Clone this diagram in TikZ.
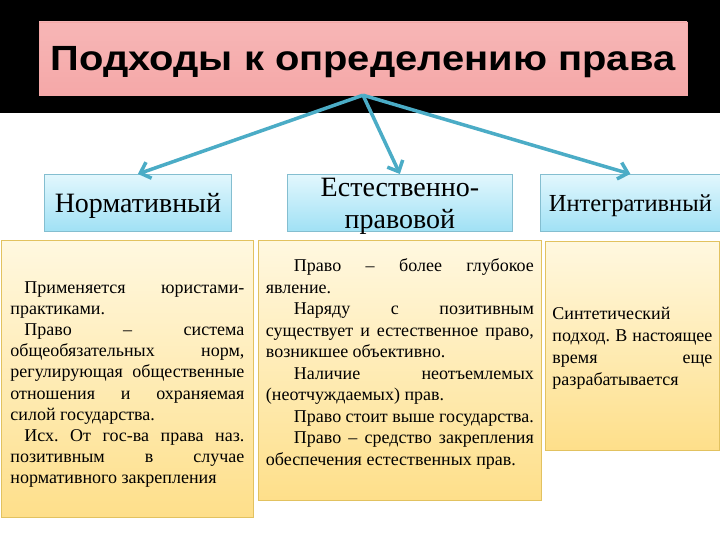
\documentclass[tikz,border=0pt]{standalone}
\usepackage{fontspec}
\usepackage{graphicx}
\setmainfont{Liberation Serif}
\newfontfamily\titlefont{Liberation Sans}
\usetikzlibrary{arrows.meta}

\definecolor{arrowblue}{RGB}{75,172,198}
\definecolor{pinktop}{RGB}{247,182,182}
\definecolor{pinkmid}{RGB}{252,214,214}
\definecolor{pinkbot}{RGB}{245,168,168}
\definecolor{cyantop}{RGB}{226,247,253}
\definecolor{cyanbot}{RGB}{160,225,245}
\definecolor{cyanline}{RGB}{132,190,208}
\definecolor{creamtop}{RGB}{255,248,224}
\definecolor{creambot}{RGB}{254,223,138}
\definecolor{goldline}{RGB}{226,194,96}

\frenchspacing

\begin{document}
\begin{tikzpicture}[x=1pt, y=-1pt, >={Straight Barb[length=9pt,width=17pt]},
  approach/.style={draw=cyanline, line width=0.8pt, top color=cyantop, bottom color=cyanbot,
    minimum height=57pt, inner sep=0pt, text depth=0pt, anchor=north west, align=center,
    font={\fontsize{28}{32}\selectfont}},
  notes/.style={draw=goldline, line width=0.8pt, top color=creamtop, bottom color=creambot,
    anchor=north west, align=justify, inner ysep=0pt,
    font={\fontsize{18}{21.2}\selectfont\tolerance=10000 \parindent=0pt}},
  link/.style={->, draw=arrowblue, line width=3.5pt}]
  \useasboundingbox (0,0) rectangle (720,540);
  \fill [white] (0,0) rectangle (720,540);
  \fill [black] (0,0) rectangle (720,113);

  % title
  \node [draw=pinkbot, top color=pinktop, middle color=pinkmid, bottom color=pinkbot,
    minimum width=648pt, minimum height=73pt, inner sep=0pt, text depth=0pt] (title) at (363,58.5)
    {\titlefont\bfseries\fontsize{35}{40}\selectfont\scalebox{1.14}[1]{Подходы к определению права}};

  % approaches
  \node [approach, minimum width=187pt] (norm) at (44,174) {Нормативный};
  \node [approach, minimum width=225pt] (nat) at (287,174) {Естественно-\\правовой};
  \node [approach, minimum width=180pt, font={\fontsize{24.5}{30}\selectfont}] (integ) at (540,174) {Интегративный};

  % descriptions
  \node [notes, text width=234pt, inner xsep=9pt, minimum height=277pt] (normtext) at (1,240)
    {\rule{0pt}{23pt}\hspace*{14pt}Применяется юристами-\linebreak практиками.\par
     \hspace*{14pt}Право – система\linebreak общеобязательных норм,\linebreak
     регулирующая общественные\linebreak отношения и охраняемая\linebreak
     силой государства.\par
     \hspace*{14pt}Исх. От гос-ва права наз.\linebreak позитивным в случае\linebreak
     нормативного закрепления};
  \node [notes, text width=268pt, inner xsep=7.5pt, minimum height=260pt,
    font={\fontsize{18}{21.5}\selectfont\tolerance=10000 \parindent=0pt}] (nattext) at (258,240)
    {\hspace*{28pt}Право – более глубокое\linebreak явление.\par
     \hspace*{28pt}Наряду с позитивным\linebreak существует и естественное право,\linebreak
     возникшее объективно.\par
     \hspace*{28pt}Наличие неотъемлемых\linebreak (неотчуждаемых) прав.\par
     \hspace*{28pt}Право стоит выше государства.\par
     \hspace*{28pt}Право – средство закрепления\linebreak обеспечения естественных прав.\rule[-17pt]{0pt}{17pt}};
  \node [notes, text width=160pt, inner xsep=7pt, minimum height=209pt,
    font={\fontsize{18}{22}\selectfont\tolerance=10000 \parindent=0pt}] (integtext) at (545,241)
    {\rule{0pt}{18pt}Синтетический\newline подход. В настоящее\linebreak время еще\linebreak разрабатывается};

  \draw [link] (title.south) -- (norm.north);
  \draw [link] (title.south) -- (nat.north);
  \draw [link] (title.south) -- (integ.north);
\end{tikzpicture}
\end{document}
